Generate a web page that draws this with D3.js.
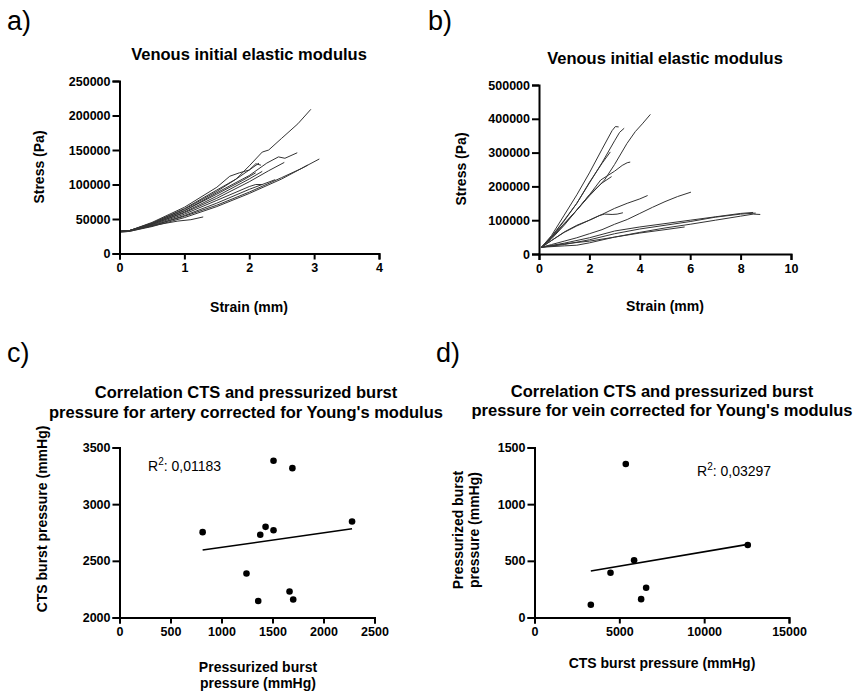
<!DOCTYPE html>
<html>
<head>
<meta charset="utf-8">
<script src="https://cdn.jsdelivr.net/npm/d3@7/dist/d3.min.js"></script>
<style>
  html, body { margin: 0; padding: 0; background: #fff; }
  svg { display: block; font-family: "Liberation Sans", Arial, sans-serif; }
</style>
</head>
<body>
<svg id="chart" width="859" height="693"></svg>
<script>
// ---------- DATA ----------
// Panel a: stress-strain curves (strain mm, stress Pa)
const curvesA = [
  [[0,32000],[0.15,33000],[0.5,44000],[1,64000],[1.5,90000],[1.8,108000],[2.0,127000],[2.2,147000],[2.3,150000],[2.5,167000],[2.75,188000],[2.95,209000]],
  [[0,32000],[0.15,33000],[0.5,43000],[1,62000],[1.5,88000],[2.0,113000],[2.27,131000],[2.45,140000],[2.55,138000],[2.74,146000]],
  [[0,31000],[0.15,32000],[0.5,40000],[1,54000],[1.5,70000],[2,89000],[2.5,110000],[2.8,123000],[3.08,137000]],
  [[0,31000],[0.15,32000],[0.5,39000],[1,52000],[1.5,68000],[2,87000],[2.5,108000],[2.9,128000]],
  [[0,32000],[0.15,33000],[0.5,42000],[1,59000],[1.5,80000],[2,104000],[2.3,120000],[2.54,132000]],
  [[0,32000],[0.15,33000],[0.3,36000],[0.6,42000],[0.9,47000],[1.1,49000],[1.29,53000]],
  [[0,32000],[0.15,33000],[0.5,45000],[1,67000],[1.5,96000],[1.7,112000],[1.85,117000],[2.0,121000],[2.15,131000]],
  [[0,32000],[0.15,33000],[0.5,44000],[1,65000],[1.5,92000],[1.8,108000],[2.0,121000],[2.1,130000],[2.18,128000]],
  [[0,32000],[0.15,33000],[0.5,42000],[1,60000],[1.5,83000],[2,108000],[2.2,119000]],
  [[0,32000],[0.15,33000],[0.5,41000],[1,57000],[1.5,77000],[2,97000],[2.1,100000],[2.2,100000]],
  [[0,32000],[0.15,33000],[0.5,40000],[1,55000],[1.5,73000],[2,93000],[2.4,107000]],
  [[0,32000],[0.15,33000],[0.5,43000],[1,62000],[1.5,86000],[1.9,106000],[2.1,117000]]
];
// Panel b: stress-strain curves (strain mm, stress Pa)
const curvesB = [
  [[0.1,20000],[0.5,55000],[1.0,115000],[1.5,175000],[2.0,240000],[2.5,310000],[2.9,365000],[3.03,377000],[3.16,376000]],
  [[0.1,20000],[0.5,50000],[1.0,98000],[1.5,150000],[2.0,210000],[2.5,270000],[3.0,335000],[3.2,360000],[3.38,372000]],
  [[0.1,20000],[0.5,50000],[1.0,90000],[1.5,130000],[2.0,172000],[2.6,219000],[3.0,265000],[3.49,327000],[3.82,362000],[4.1,385000],[4.42,413000]],
  [[0.1,20000],[0.5,52000],[1.0,100000],[1.5,150000],[2.0,212000],[2.5,268000],[2.83,302000]],
  [[0.1,20000],[0.5,48000],[1.0,88000],[1.5,130000],[2.0,175000],[2.45,219000],[3.0,245000],[3.3,262000],[3.5,270000],[3.62,272000]],
  [[0.1,20000],[0.5,45000],[1.0,85000],[1.5,130000],[2.0,175000],[2.5,210000],[2.88,229000]],
  [[0.1,20000],[0.5,40000],[1.0,65000],[1.5,85000],[2.0,100000],[2.5,117000],[3.0,135000],[3.5,150000],[4.0,163000],[4.31,173000]],
  [[0.1,20000],[0.5,40000],[1.0,64000],[1.5,83000],[2.0,100000],[2.4,114000],[2.6,118000],[2.9,117000],[3.1,118000],[3.33,122000]],
  [[0.1,20000],[0.5,28000],[1.0,38000],[1.5,48000],[2.0,60000],[2.5,72000],[3.0,88000],[3.5,102000],[4.0,120000],[4.5,138000],[5.0,155000],[5.5,170000],[6.03,183000]],
  [[0.1,20000],[1.0,24000],[1.5,26000],[2.0,33000],[3.0,50000],[4.0,64000],[5.0,77000],[6.0,88000],[7.0,100000],[8.0,112000],[8.5,118000],[8.78,117000]],
  [[0.1,20000],[1.0,32000],[2.0,48000],[3.0,68000],[4.0,80000],[5.0,90000],[6.0,100000],[7.0,110000],[8.0,120000],[8.5,123000]],
  [[0.1,20000],[1.0,30000],[2.0,38000],[3.0,50000],[4.0,62000],[5.0,72000],[5.78,80000]],
  [[0.1,20000],[1.0,28000],[2.0,42000],[3.0,60000],[4.0,74000],[5.0,85000],[6.0,96000],[7.0,109000],[8.0,118000],[8.6,121000]]
];
// Panel c: artery
const arteryPressurized = [815, 1380, 1432, 1510, 2280, 1510, 1695, 1245, 1667, 1360, 1703];
const arteryCTS         = [2753, 2730, 2800, 2770, 2847, 3383, 3318, 2388, 2229, 2145, 2159];
const arteryFitX = [815, 2280];
const arteryFitY = [2595, 2783];
const arteryR2 = "0,01183";
// Panel d: vein
const veinCTS         = [5380, 5870, 4480, 6580, 6285, 3320, 12570];
const veinPressurized = [1355, 505, 395, 262, 162, 112, 640];
const veinFitX = [3320, 12570];
const veinFitY = [410, 645];
const veinR2 = "0,03297";
// Ticks
const ticksAx = [0, 1, 2, 3, 4];
const ticksAy = [0, 50000, 100000, 150000, 200000, 250000];
const ticksBx = [0, 2, 4, 6, 8, 10];
const ticksBy = [0, 100000, 200000, 300000, 400000, 500000];
const ticksCx = [0, 500, 1000, 1500, 2000, 2500];
const ticksCy = [2000, 2500, 3000, 3500];
const ticksDx = [0, 5000, 10000, 15000];
const ticksDy = [0, 500, 1000, 1500];

// ---------- DRAWING ----------
const svg = d3.select("#chart");
const TICKFONT = 12.5;
const TITLEFONT = 16.5;

function axes(g, x, y, xt, yt) {
  const ax = g.append("g").attr("transform", `translate(0,${y.range()[0]})`)
    .call(d3.axisBottom(x).tickValues(xt).tickSize(6).tickPadding(4).tickFormat(d3.format("d")));
  const ay = g.append("g").attr("transform", `translate(${x.range()[0]},0)`)
    .call(d3.axisLeft(y).tickValues(yt).tickSize(7).tickPadding(2).tickFormat(d3.format("d")));
  [ax, ay].forEach(a => {
    a.select(".domain").attr("stroke", "#000").attr("stroke-width", 2);
    a.selectAll(".tick line").attr("stroke", "#000").attr("stroke-width", 2);
    a.selectAll(".tick text").attr("fill", "#000").style("font-size", TICKFONT + "px")
      .style("font-weight", "bold").style("font-family", "Liberation Sans, Arial, sans-serif");
  });
}

function text(x, y, s, opts = {}) {
  const t = svg.append("text").attr("x", x).attr("y", y).text(s)
    .attr("text-anchor", opts.anchor || "middle")
    .style("font-size", (opts.size || 14) + "px")
    .style("font-weight", opts.weight || "bold")
    .attr("fill", "#000");
  if (opts.rotate) t.attr("transform", `rotate(-90,${x},${y})`);
  return t;
}

const line = (x, y) => d3.line().x(d => x(d[0])).y(d => y(d[1]));

// Panel labels
text(7, 30, "a)", {anchor: "start", size: 27, weight: "normal"});
text(428, 30, "b)", {anchor: "start", size: 27, weight: "normal"});
text(7, 362, "c)", {anchor: "start", size: 27, weight: "normal"});
text(436, 362, "d)", {anchor: "start", size: 27, weight: "normal"});

// Panel a
{
  const x = d3.scaleLinear().domain([0, 4]).range([119.5, 379]);
  const y = d3.scaleLinear().domain([0, 250000]).range([253.5, 81]);
  const g = svg.append("g");
  g.selectAll("path.c").data(curvesA).join("path").attr("class", "c")
    .attr("d", line(x, y)).attr("fill", "none").attr("stroke", "#333").attr("stroke-width", 1);
  axes(g, x, y, ticksAx, ticksAy);
  text(249, 60, "Venous initial elastic modulus", {size: TITLEFONT});
  text(249, 312, "Strain (mm)", {size: 14});
  text(44, 167, "Stress (Pa)", {size: 14, rotate: true});
}
// Panel b
{
  const x = d3.scaleLinear().domain([0, 10]).range([539, 791]);
  const y = d3.scaleLinear().domain([0, 500000]).range([254, 85]);
  const g = svg.append("g");
  g.selectAll("path.c").data(curvesB).join("path").attr("class", "c")
    .attr("d", line(x, y)).attr("fill", "none").attr("stroke", "#333").attr("stroke-width", 1);
  axes(g, x, y, ticksBx, ticksBy);
  text(665, 64, "Venous initial elastic modulus", {size: TITLEFONT});
  text(665, 311, "Strain (mm)", {size: 14});
  text(466, 169, "Stress (Pa)", {size: 14, rotate: true});
}
// Panel c
{
  const x = d3.scaleLinear().domain([0, 2500]).range([119.5, 374.5]);
  const y = d3.scaleLinear().domain([2000, 3500]).range([617.5, 447.5]);
  const g = svg.append("g");
  axes(g, x, y, ticksCx, ticksCy);
  g.append("path").datum(arteryFitX.map((v, i) => [v, arteryFitY[i]]))
    .attr("d", line(x, y)).attr("stroke", "#000").attr("stroke-width", 1.6).attr("fill", "none");
  g.selectAll("circle").data(arteryPressurized.map((v, i) => [v, arteryCTS[i]])).join("circle")
    .attr("cx", d => x(d[0])).attr("cy", d => y(d[1])).attr("r", 3.3).attr("fill", "#000");
  text(246, 398, "Correlation CTS and pressurized burst", {size: TITLEFONT});
  text(246, 417.5, "pressure for artery corrected for Young's modulus", {size: TITLEFONT});
  text(47, 519, "CTS burst pressure (mmHg)", {size: 14, rotate: true});
  text(258, 672, "Pressurized burst", {size: 14});
  text(258, 688, "pressure (mmHg)", {size: 14});
  const r = g.append("text").attr("x", 148).attr("y", 471).style("font-size", "14px").attr("fill", "#000");
  r.append("tspan").text("R");
  r.append("tspan").attr("dy", -6).style("font-size", "10px").text("2");
  r.append("tspan").attr("dy", 6).text(": " + arteryR2);
}
// Panel d
{
  const x = d3.scaleLinear().domain([0, 15000]).range([534.5, 789]);
  const y = d3.scaleLinear().domain([0, 1500]).range([617.5, 447.5]);
  const g = svg.append("g");
  axes(g, x, y, ticksDx, ticksDy);
  g.append("path").datum(veinFitX.map((v, i) => [v, veinFitY[i]]))
    .attr("d", line(x, y)).attr("stroke", "#000").attr("stroke-width", 1.6).attr("fill", "none");
  g.selectAll("circle").data(veinCTS.map((v, i) => [v, veinPressurized[i]])).join("circle")
    .attr("cx", d => x(d[0])).attr("cy", d => y(d[1])).attr("r", 3.3).attr("fill", "#000");
  text(662, 397, "Correlation CTS and pressurized burst", {size: TITLEFONT});
  text(662, 416, "pressure for vein corrected for Young's modulus", {size: TITLEFONT});
  text(463, 530, "Pressurized burst", {size: 14, rotate: true});
  text(479, 530, "pressure (mmHg)", {size: 14, rotate: true});
  text(662, 668, "CTS burst pressure (mmHg)", {size: 14});
  const r = g.append("text").attr("x", 697).attr("y", 476).style("font-size", "14px").attr("fill", "#000");
  r.append("tspan").text("R");
  r.append("tspan").attr("dy", -6).style("font-size", "10px").text("2");
  r.append("tspan").attr("dy", 6).text(": " + veinR2);
}
</script>
</body>
</html>
